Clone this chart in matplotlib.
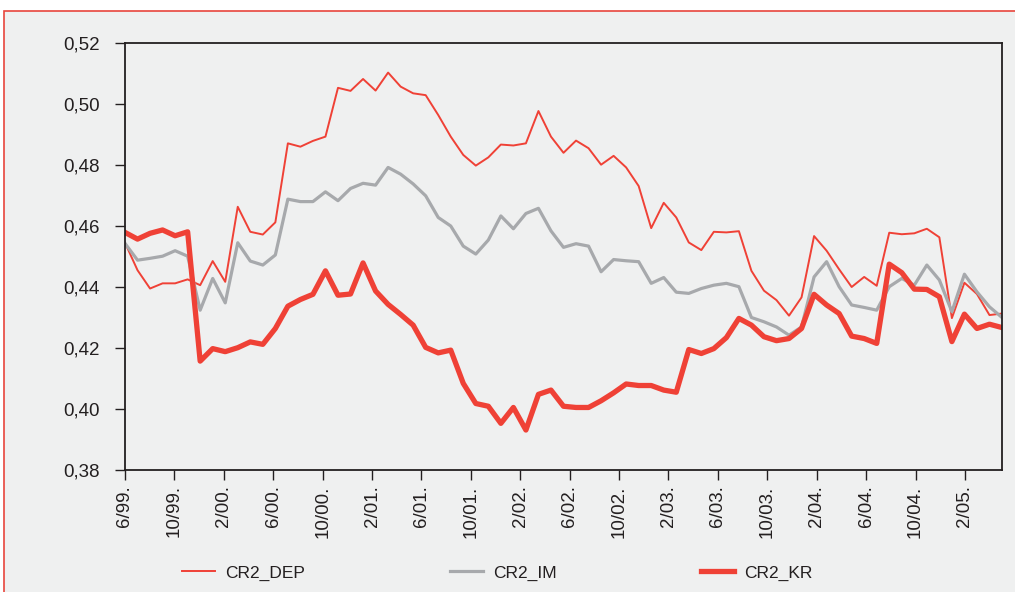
import numpy as np
import matplotlib
matplotlib.use("Agg")
import matplotlib.pyplot as plt
from matplotlib.patches import Rectangle
from matplotlib.ticker import FuncFormatter

# monthly values, 6/99 .. 4/05
cr2_dep = [0.4545, 0.4455, 0.4395, 0.4412, 0.4412, 0.4425, 0.4406, 0.4485, 0.4417, 0.4663,
           0.4581, 0.4572, 0.4612, 0.4871, 0.4860, 0.4879, 0.4893, 0.5053, 0.5043, 0.5082,
           0.5044, 0.5103, 0.5057, 0.5035, 0.5029, 0.4964, 0.4893, 0.4833, 0.4798, 0.4825,
           0.4867, 0.4864, 0.4871, 0.4977, 0.4893, 0.4840, 0.4880, 0.4855, 0.4801, 0.4830,
           0.4792, 0.4731, 0.4593, 0.4676, 0.4628, 0.4546, 0.4521, 0.4581, 0.4579, 0.4583,
           0.4453, 0.4388, 0.4357, 0.4306, 0.4366, 0.4567, 0.4519, 0.4458, 0.4400, 0.4433,
           0.4404, 0.4578, 0.4573, 0.4576, 0.4591, 0.4563, 0.4298, 0.4414, 0.4377, 0.4308,
           0.4313]
cr2_im = [0.4543, 0.4488, 0.4494, 0.4501, 0.4519, 0.4501, 0.4324, 0.4428, 0.4348, 0.4545,
          0.4485, 0.4472, 0.4505, 0.4688, 0.4680, 0.4680, 0.4712, 0.4683, 0.4723, 0.4740,
          0.4734, 0.4792, 0.4770, 0.4738, 0.4699, 0.4628, 0.4600, 0.4534, 0.4508, 0.4554,
          0.4633, 0.4591, 0.4641, 0.4658, 0.4584, 0.4530, 0.4542, 0.4534, 0.4450, 0.4490,
          0.4486, 0.4483, 0.4412, 0.4431, 0.4383, 0.4379, 0.4395, 0.4406, 0.4412, 0.4401,
          0.4300, 0.4286, 0.4269, 0.4242, 0.4269, 0.4433, 0.4483, 0.4401, 0.4341, 0.4333,
          0.4324, 0.4401, 0.4428, 0.4406, 0.4472, 0.4423, 0.4319, 0.4442, 0.4384, 0.4335,
          0.4300]
cr2_kr = [0.4579, 0.4557, 0.4576, 0.4587, 0.4568, 0.4581, 0.4157, 0.4198, 0.4188, 0.4201,
          0.4220, 0.4212, 0.4264, 0.4337, 0.4359, 0.4376, 0.4453, 0.4373, 0.4377, 0.4479,
          0.4387, 0.4343, 0.4310, 0.4275, 0.4202, 0.4184, 0.4193, 0.4084, 0.4018, 0.4009,
          0.3953, 0.4005, 0.3931, 0.4048, 0.4062, 0.4009, 0.4005, 0.4005, 0.4027, 0.4053,
          0.4082, 0.4077, 0.4077, 0.4062, 0.4055, 0.4195, 0.4182, 0.4198, 0.4234, 0.4297,
          0.4275, 0.4237, 0.4224, 0.4231, 0.4264, 0.4376, 0.4341, 0.4313, 0.4239, 0.4231,
          0.4215, 0.4475, 0.4447, 0.4393, 0.4392, 0.4368, 0.4221, 0.4311, 0.4264, 0.4278,
          0.4267]

tick_labels = ["6/99.", "10/99.", "2/00.", "6/00.", "10/00.", "2/01.", "6/01.", "10/01.",
               "2/02.", "6/02.", "10/02.", "2/03.", "6/03.", "10/03.", "2/04.", "6/04.",
               "10/04.", "2/05."]

RED = "#ef4136"
GREY = "#a7a9ac"
BG = "#eff0f0"

plt.rcParams["font.family"] = ["Liberation Sans", "DejaVu Sans"]

W, H = 1015, 592
fig = plt.figure(figsize=(W / 100, H / 100), dpi=100)
fig.patch.set_facecolor("white")
# grey panel with the red frame, behind everything
fig.patches.append(Rectangle((4 / W, -0.05), 1.1, (H - 11) / H + 0.05,
                             transform=fig.transFigure, facecolor=BG,
                             edgecolor="#e8453c", linewidth=1.2, zorder=-10))

ax = fig.add_axes([125 / W, 1 - 470 / H, 877 / W, 427 / H])
ax.set_facecolor(BG)

x = np.arange(len(cr2_dep))
ax.plot(x, cr2_dep, color=RED, lw=1.4, label="CR2_DEP")
ax.plot(x, cr2_im, color=GREY, lw=2.3, label="CR2_IM")
ax.plot(x, cr2_kr, color=RED, lw=3.8, label="CR2_KR")

ax.set_xlim(0, len(x) - 1)
ax.set_ylim(0.38, 0.52)
ax.set_yticks(np.arange(0.38, 0.5201, 0.02))
ax.yaxis.set_major_formatter(FuncFormatter(lambda v, p: f"{v:.2f}".replace(".", ",")))

# labels run every 4 months on a slightly different step than the points
ax.set_xticks(np.arange(0, 4 * len(tick_labels), 4) * (len(x) - 1) / len(x))
ax.set_xticklabels(tick_labels, rotation=90, va="top")

for s in ax.spines.values():
    s.set_color("#231f20")
    s.set_linewidth(1.3)
ax.tick_params(axis="both", direction="out", length=7, width=1, color="#231f20",
               labelsize=13.5, labelcolor="#231f20")
ax.tick_params(axis="x", pad=4)
ax.tick_params(axis="y", pad=11)

leg = fig.legend(loc="center", bbox_to_anchor=(0.49, 0.032), ncol=3, frameon=False,
                 handlelength=1.9, columnspacing=8.3, handletextpad=0.6,
                 prop={"size": 12.5})
for t in leg.get_texts():
    t.set_color("#231f20")

fig.savefig("out.png", dpi=100, facecolor=fig.get_facecolor())
